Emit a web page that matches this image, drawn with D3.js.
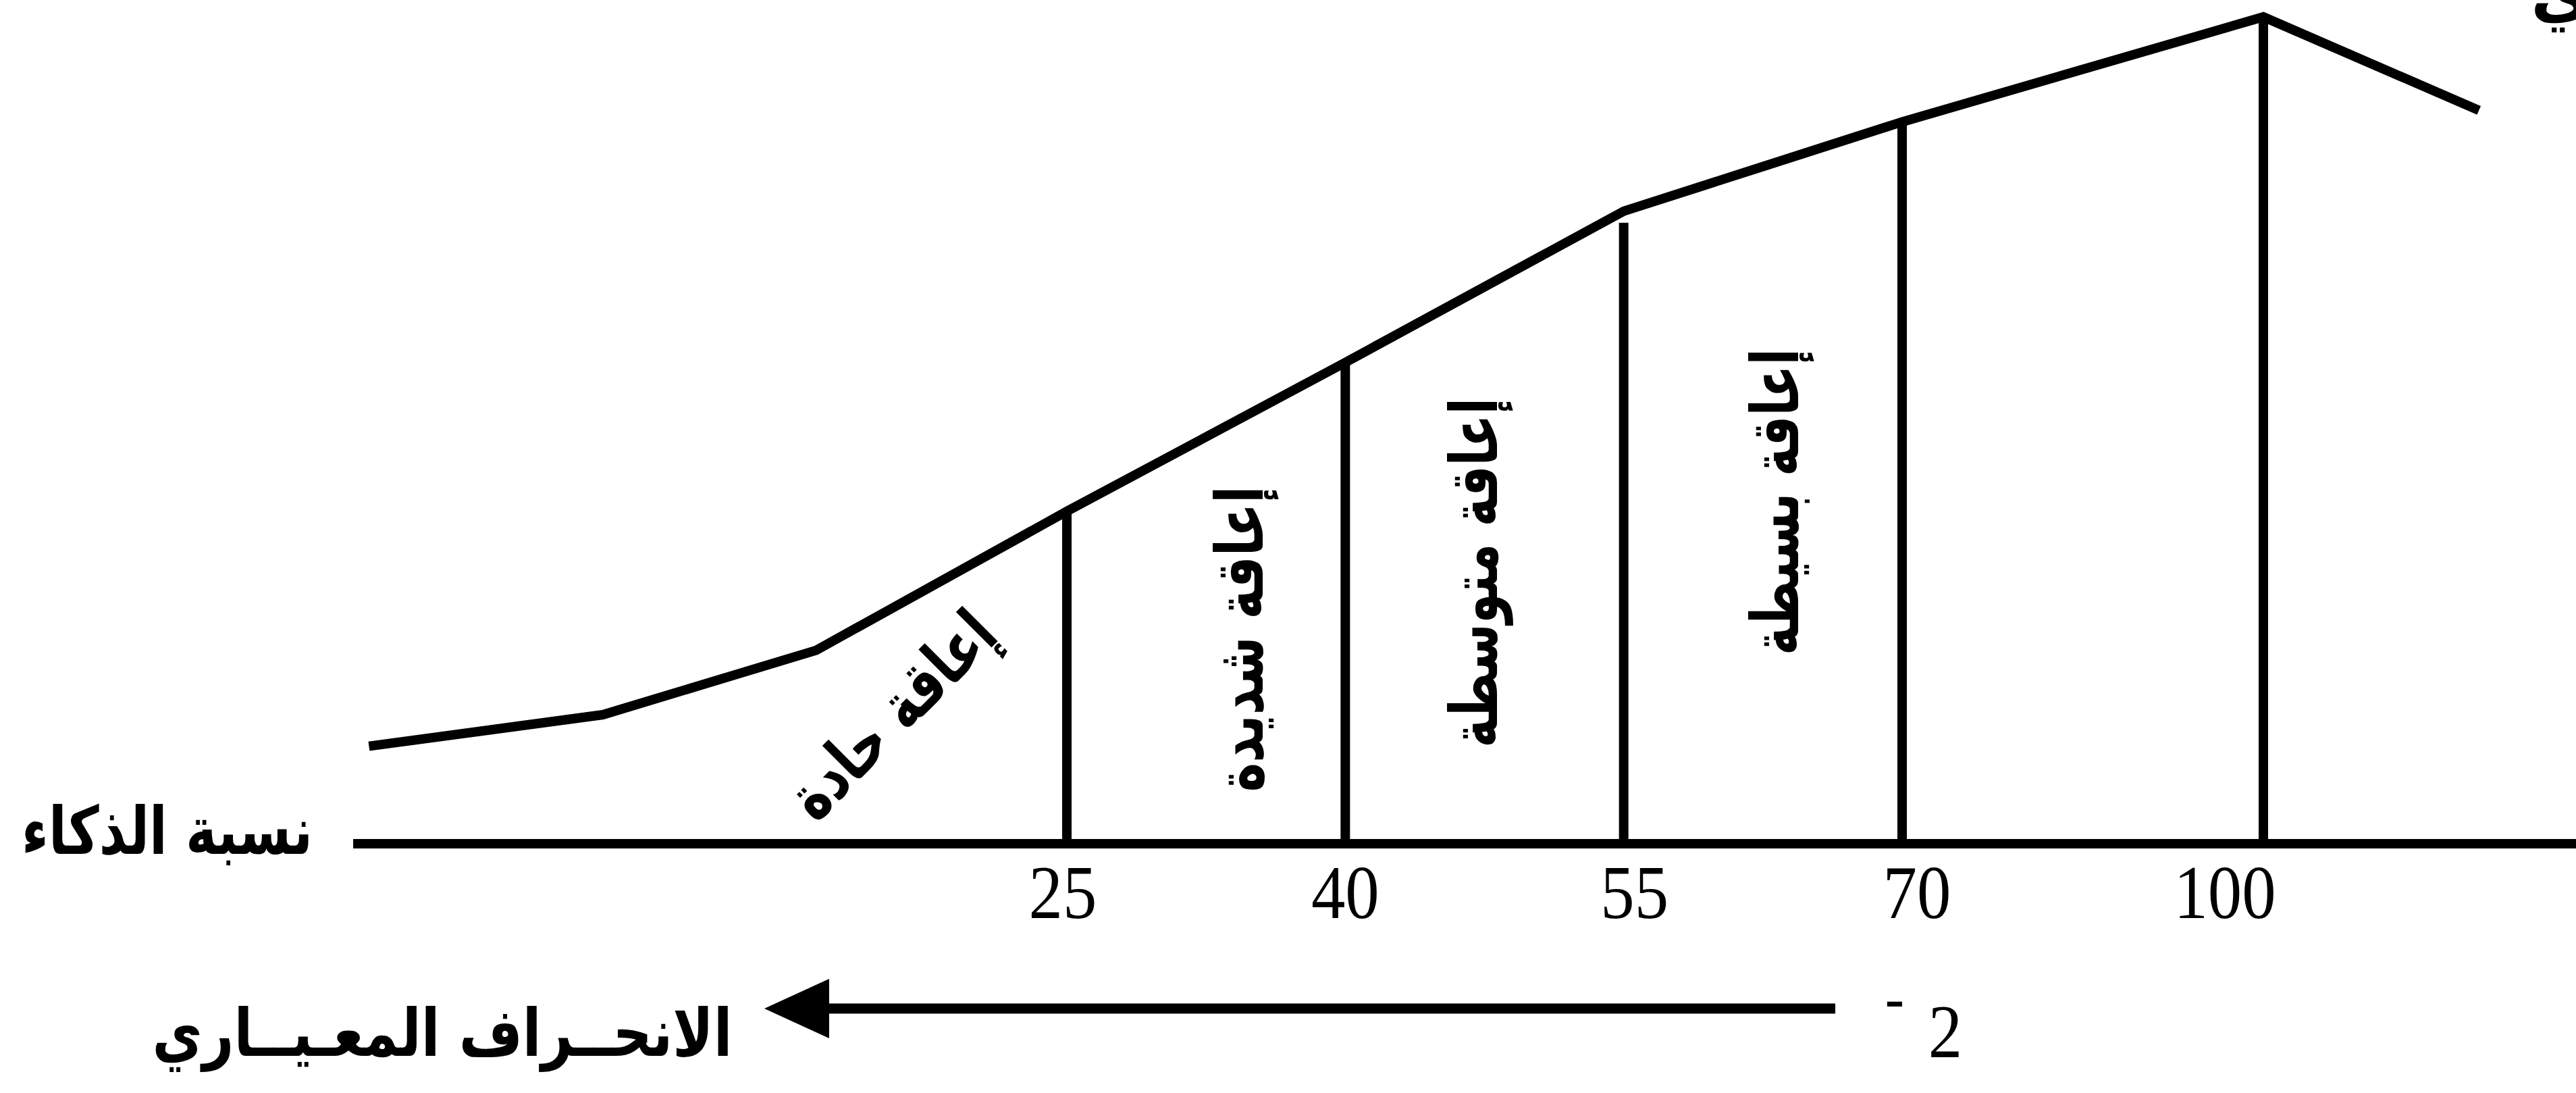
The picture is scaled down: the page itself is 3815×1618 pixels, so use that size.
<!DOCTYPE html>
<html>
<head>
<meta charset="utf-8">
<script src="https://cdn.jsdelivr.net/npm/d3@7"></script>
<style>
html,body{margin:0;padding:0;background:#fff;overflow:hidden}
svg{display:block}
</style>
</head>
<body>
<svg id="chart"></svg>
<script>
// ---------------- data ----------------
const tickValues = [25, 40, 55, 70, 100];
const tickLabels = ["25", "40", "55", "70", "100"];
// schematic curve: IQ position and relative height (peak = 100)
const curveIQ = [-12.6, 0, 11.5, 25, 40, 55, 70, 100, 117.9];
const curveHeight = [11.8, 15.6, 23.4, 40.2, 58.2, 76.5, 87.3, 100, 88.7];
// category boundaries drawn as vertical lines
const boundaryIQ = [25, 40, 55, 70, 100];
const boundaryHeight = [40.2, 58.2, 75.1, 87.3, 100];
const bandLabels = ["إعاقة حادة", "إعاقة شديدة", "إعاقة متوسطة", "إعاقة بسيطة"];
const axisTitle = "نسبة الذكاء";
const sdTitle = "الانحــراف المعـيــاري";
const sdSign = "-";
const sdValue = "2";
const cornerText = "ي";

// ---------------- layout ----------------
const W = 3815, H = 1618;
const STROKE = 14;
const ARABIC = "'DejaVu Sans', 'Noto Sans', sans-serif";
const SERIF = "'Liberation Serif', 'DejaVu Serif', serif";
const tickNudge = [-6, 0, 16, 22, -57];   // label offsets as set in the original figure

const svg = d3.select("#chart").attr("width", W).attr("height", H);
svg.append("rect").attr("width", W).attr("height", H).attr("fill", "#fff");

// piecewise (schematic) IQ scale
const x = d3.scaleLinear().domain([25, 70, 100]).range([1580, 2817, 3352]);
const y = d3.scaleLinear().domain([0, 100]).range([1249, 25]);

// baseline (IQ axis)
svg.append("line")
  .attr("x1", x(-13.45)).attr("x2", W + 20)
  .attr("y1", y(0)).attr("y2", y(0))
  .attr("stroke", "#000").attr("stroke-width", STROKE);

// boundary verticals
svg.selectAll("line.bound").data(boundaryIQ).join("line")
  .attr("class", "bound")
  .attr("x1", d => x(d)).attr("x2", d => x(d))
  .attr("y1", y(0)).attr("y2", (d, i) => y(boundaryHeight[i]))
  .attr("stroke", "#000").attr("stroke-width", STROKE);

// curve
const line = d3.line().x(d => x(d[0])).y(d => y(d[1]));
svg.append("path")
  .datum(d3.zip(curveIQ, curveHeight))
  .attr("d", line)
  .attr("fill", "none").attr("stroke", "#000")
  .attr("stroke-width", STROKE).attr("stroke-linejoin", "miter");

// tick labels
svg.selectAll("text.tick").data(tickValues).join("text")
  .attr("class", "tick")
  .attr("transform", (d, i) => `translate(${x(d) + tickNudge[i]},1359) scale(0.9,1)`)
  .attr("text-anchor", "middle")
  .attr("font-family", SERIF).attr("font-size", 112).attr("fill", "#000")
  .text((d, i) => tickLabels[i]);

// Arabic labels fitted to their extent
function fitLabel(str, cx, cy, angle, len, size) {
  const g = svg.append("g");
  const t = g.append("text")
    .attr("x", 0).attr("y", 0)
    .attr("text-anchor", "middle")
    .attr("font-family", ARABIC).attr("font-weight", "bold")
    .attr("font-size", size || 98).attr("fill", "#000")
    .text(str);
  const w = t.node().getBBox().width || len;
  g.attr("transform", `translate(${cx},${cy}) rotate(${angle}) scale(${len / w},1)`);
  return g;
}

const bandLayout = [
  {cx: 1345, cy: 1082, a: -45, len: 388},
  {cx: 1870, cy: 946, a: -90, len: 453},
  {cx: 2217, cy: 848, a: -90, len: 518},
  {cx: 2663, cy: 743, a: -90, len: 454}
];
bandLabels.forEach((s, i) => {
  const L = bandLayout[i];
  fitLabel(s, L.cx, L.cy, L.a, L.len);
});

fitLabel(axisTitle, 247.5, 1264, 0, 431);
fitLabel(sdTitle, 655, 1563, 0, 859);

// standard deviation arrow
const ay = 1493;
const tipX = x(8.7), tailX = x(66.4);
svg.append("line")
  .attr("x1", tailX).attr("x2", tipX + 90)
  .attr("y1", ay).attr("y2", ay)
  .attr("stroke", "#000").attr("stroke-width", 15);
svg.append("path")
  .attr("d", `M${tipX},${ay} L${tipX + 96},${ay - 44} L${tipX + 96},${ay + 44} Z`)
  .attr("fill", "#000");

svg.append("text")
  .attr("transform", `translate(2806,1506)`)
  .attr("text-anchor", "middle")
  .attr("font-family", SERIF).attr("font-weight", "bold").attr("font-size", 85)
  .text(sdSign);
svg.append("text")
  .attr("transform", `translate(2881,1565) scale(0.9,1)`)
  .attr("text-anchor", "middle")
  .attr("font-family", SERIF).attr("font-size", 112)
  .text(sdValue);

// partially visible text at top-right corner (cut by the frame, as in the original)
svg.append("text")
  .attr("x", 3748).attr("y", 24)
  .attr("text-anchor", "start")
  .attr("font-family", ARABIC).attr("font-weight", "bold").attr("font-size", 98)
  .text(cornerText);
</script>
</body>
</html>
